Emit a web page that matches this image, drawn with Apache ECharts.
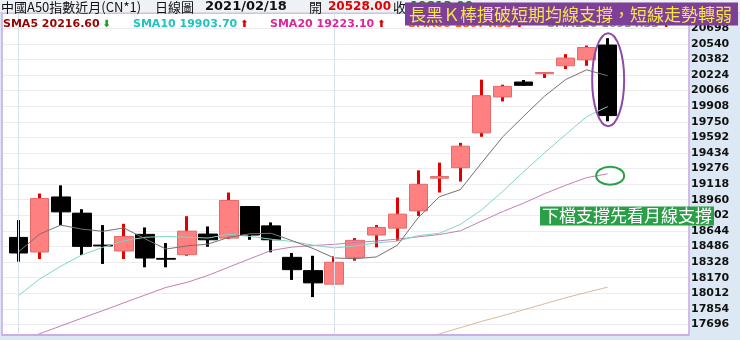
<!DOCTYPE html>
<html><head><meta charset="utf-8">
<script src="https://cdn.jsdelivr.net/npm/echarts@6/dist/echarts.min.js"></script>
<style>html,body{margin:0;padding:0;overflow:hidden;background:#dce8f4}#c{width:740px;height:340px}</style>
</head><body><div id="c"></div><script>
// ---------- data ----------
const categories = ['2021/01/11','2021/01/12','2021/01/13','2021/01/14','2021/01/15','2021/01/18','2021/01/19','2021/01/20','2021/01/21','2021/01/22','2021/01/25','2021/01/26','2021/01/27','2021/01/28','2021/01/29','2021/02/01','2021/02/02','2021/02/03','2021/02/04','2021/02/05','2021/02/08','2021/02/09','2021/02/10','2021/02/11','2021/02/12','2021/02/15','2021/02/16','2021/02/17','2021/02/18'];
const padCategories = ['2021/02/19','2021/02/22','2021/02/23'];
const opens  = [18578,18430,18988,18824,18500,18440,18609,18365,18403,18612,18571,18891,18695,18376,18241,18104,18376,18602,18672,18847,19178,19285,19638,20002,20153,20237,20318,20378,20528];
const closes = [18420,18972,18837,18487,18492,18588,18369,18357,18642,18554,18952,18602,18554,18251,18117,18326,18548,18679,18814,19116,19195,19503,20015,20109,20120,20250,20396,20503,19813];
const lows   = [18332,18359,18703,18400,18309,18359,18275,18275,18392,18483,18561,18554,18427,18147,17973,18104,18342,18477,18544,18796,19033,19144,19598,19957,20116,20194,20285,20318,19755];
const highs  = [18753,19023,19106,18864,18703,18716,18679,18521,18793,18689,19033,18895,18730,18420,18392,18386,18571,18703,18982,19258,19336,19537,20177,20126,20174,20252,20436,20523,20598];
const sma5  = [18433,18612,18703,18662,18640,18674,18565,18460,18492,18510,18580,18615,18620,18545,18465,18370,18362,18380,18498,18780,18990,19063,19332,19595,19805,20010,20178,20277,20217];
const sma10 = [17989,18157,18286,18400,18477,18544,18579,18588,18581,18572,18610,18588,18560,18536,18499,18472,18490,18523,18540,18596,18620,18710,18856,19042,19243,19435,19620,19802,19904];
const sma20 = [17525,17602,17680,17759,17836,17915,17993,18071,18122,18193,18278,18362,18445,18480,18496,18508,18526,18541,18561,18584,18607,18645,18743,18839,18925,19021,19106,19184,19223];
const sma60 = ['-','-','-','-','-','-','-','-','-','-','-','-','-','-','-','-','-','-','-',17536,17600,17663,17727,17784,17844,17905,17966,18021,18074];
const monthMarks = ['2021/01/11','2021/02/01'];
const yMin = 17538, yMax = 20856, yStep = 158;
const labelMin = 17696, labelMax = 20698;
const titleName = '中國A50指數近月(CN*1)', periodName = '日線圖', dateText = '2021/02/18';
const openText = '20528.00', closeText = '19813.00';
const smaNames  = ['SMA5','SMA10','SMA20','SMA60','SMA120'];
const smaValues = ['20216.60','19903.70','19223.10','18074.33','16934.33'];
const smaTrend  = ['down','up','up','up','up'];
const bannerText = '長黑Ｋ棒摜破短期均線支撐，短線走勢轉弱';
const noteText = '下檔支撐先看月線支撐';

// ---------- chart ----------
const CJK = '"Noto Sans CJK TC", sans-serif';
const NUM = '"DejaVu Sans", sans-serif';
const chart = echarts.init(document.getElementById('c'), null, {renderer:'canvas', width:740, height:340});
const allCats = categories.concat(padCategories);
const wickData = opens.map((o,i)=>[o, closes[i], lows[i], highs[i]]);
const bodyData = opens.map((o,i)=>[o, closes[i], Math.min(o,closes[i]), Math.max(o,closes[i])]);
const TOP = 12.7, H = 328.65;

const option = {
  backgroundColor: '#dce8f4',
  animation: false,
  grid: [
    {left: 2, top: 13, width: 687, height: 322, show: true, backgroundColor: '#ffffff', borderColor: '#c9a8e2', borderWidth: 1.5},
    {left: 3, top: TOP, width: 685, height: H},
    {left: 8.18, top: TOP, width: 673.1, height: H}
  ],
  xAxis: [
    {gridIndex:0, type:'value', show:false, min:0, max:1},
    {gridIndex:1, type:'value', show:false, min:0, max:1},
    {gridIndex:2, type:'category', data: allCats, show:false, boundaryGap:true}
  ],
  yAxis: [
    {gridIndex:0, type:'value', show:false, min:0, max:1},
    {gridIndex:1, type:'value', position:'right', min:yMin, max:yMax, interval:yStep,
     axisLine:{show:false}, axisTick:{show:false},
     splitLine:{show:true, lineStyle:{color:'#ebebf0', width:1}},
     axisLabel:{margin:3, color:'#111', fontFamily:'DejaVu Sans', fontWeight:'bold', fontSize:11,
       formatter: v => (v >= labelMin && v <= labelMax) ? String(v) : ''}},
    {gridIndex:2, type:'value', show:false, min:yMin, max:yMax, interval:yStep}
  ],
  series: [
    {type:'candlestick', xAxisIndex:2, yAxisIndex:2, data: wickData, barWidth: 1,
     itemStyle:{color:'#e00000', color0:'#000000', borderColor:'#e00000', borderColor0:'#000000', borderWidth:3},
     markLine:{silent:true, symbol:'none', label:{show:false}, lineStyle:{color:'#d8e0ea', width:1, type:'solid'},
       data: monthMarks.map(m => ({xAxis: m}))}},
    {type:'candlestick', xAxisIndex:2, yAxisIndex:2, data: bodyData, barWidth: 19,
     itemStyle:{color:'#ff8080', color0:'#000000', borderColor:'#e46a6a', borderColor0:'#000000', borderWidth:1}},
    {type:'line', xAxisIndex:2, yAxisIndex:2, data: sma60, symbol:'none', lineStyle:{color:'#d9b89a', width:1}},
    {type:'line', xAxisIndex:2, yAxisIndex:2, data: sma20, symbol:'none', lineStyle:{color:'#c27fb6', width:1}},
    {type:'line', xAxisIndex:2, yAxisIndex:2, data: sma10, symbol:'none', lineStyle:{color:'#80d6c8', width:1}},
    {type:'line', xAxisIndex:2, yAxisIndex:2, data: sma5, symbol:'none', lineStyle:{color:'#7c6e6e', width:1}}
  ]
};
chart.setOption(option);

// ---------- overlays ----------
function txt(x, y, text, fill, font, extra) {
  return Object.assign({type:'text', z:30, silent:true,
    style:{x:x, y:y, text:text, fill:fill, font:font, textVerticalAlign:'middle', verticalAlign:'middle'}}, extra || {});
}
const smaColors = ['#990000','#1fc3c3','#e0259a','#ff5a1a','#8a8a8a'];
const smaX = [3, 133, 270, 408, 547];
const els = [];
els.push({type:'rect', z:10, silent:true, shape:{x:0, y:0, width:740, height:12.6}, style:{fill:'#eef1f5'}});
els.push({type:'line', z:11, silent:true, shape:{x1:0, y1:13, x2:740, y2:13}, style:{stroke:'#cfc6dc', lineWidth:1}});
els.push(txt(1, 7, titleName, '#111', 'normal 13px ' + CJK));
els.push(txt(155, 7, periodName, '#111', 'normal 13px ' + CJK));
els.push(txt(205, 7, dateText, '#111', 'bold 13px ' + NUM));
els.push(txt(309, 7, '開', '#111', 'normal 13px ' + CJK));
els.push(txt(328, 7, openText, '#e00000', 'bold 12px ' + NUM));
els.push(txt(393, 7, '收', '#111', 'normal 13px ' + CJK));
els.push(txt(410, 7, closeText, '#008a00', 'bold 12px ' + NUM));
smaNames.forEach((n, i) => {
  const up = smaTrend[i] === 'up';
  els.push({type:'text', z:30, silent:true, style:{x:smaX[i], y:24, verticalAlign:'middle', textVerticalAlign:'middle',
    text:'{a|' + n + ' ' + smaValues[i] + '}{b|' + (up ? '⬆' : '⬇') + '}',
    rich:{a:{fill:smaColors[i], font:'bold 11px ' + NUM}, b:{fill: up ? '#e00000' : '#1c9a2a', font:'bold 10px ' + NUM, padding:[0,0,0,3]}}}});
});
els.push({type:'rect', z:25, silent:true, shape:{x:0, y:335.8, width:740, height:5}, style:{fill:'#dce8f4'}});
els.push({type:'line', z:26, silent:true, shape:{x1:2, y1:335, x2:689, y2:335}, style:{stroke:'#c9a8e2', lineWidth:1.5}});
els.push({type:'rect', z:40, silent:true, shape:{x:405, y:2.5, width:333, height:23}, style:{fill:'#7d3f98'}});
els.push(txt(409, 14.2, bannerText, '#f5e44a', 'normal 17px ' + CJK, {z:41}));
els.push({type:'rect', z:40, silent:true, shape:{x:540, y:206.5, width:174, height:19}, style:{fill:'#2a9f48'}});
els.push(txt(542, 216, noteText, '#ffffff', 'normal 17px ' + CJK, {z:41}));
const last = categories.length - 1;
const pc = chart.convertToPixel({gridIndex:2}, [last, (highs[last] + lows[last]) / 2]);
const ptop = chart.convertToPixel({gridIndex:2}, [last, highs[last]]);
const pbot = chart.convertToPixel({gridIndex:2}, [last, lows[last]]);
els.push({type:'ellipse', z:35, silent:true, shape:{cx:pc[0] + 0.5, cy:pc[1], rx:16, ry:(pbot[1] - ptop[1]) / 2 + 5},
  style:{fill:'none', stroke:'#8e4aa6', lineWidth:2}});
const pg = chart.convertToPixel({gridIndex:2}, [last, sma20[last]]);
els.push({type:'ellipse', z:35, silent:true, shape:{cx:pg[0] + 2.5, cy:pg[1] + 2, rx:14, ry:9},
  style:{fill:'none', stroke:'#2a9f48', lineWidth:2}});
chart.setOption({graphic:{elements: els}});
</script></body></html>
